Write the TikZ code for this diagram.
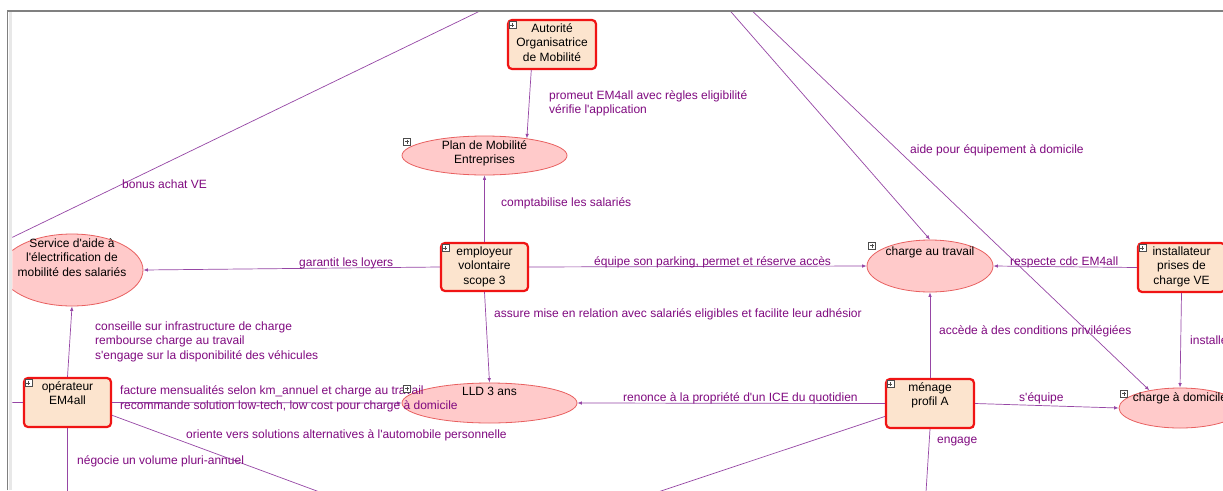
\documentclass[tikz,border=0pt]{standalone}
\usepackage{fontspec}
\setmainfont{Liberation Sans}
\usetikzlibrary{arrows.meta, shapes.geometric}
\usepackage{xcolor}

\definecolor{boxfill}{RGB}{252,228,206}
\definecolor{boxline}{RGB}{240,20,20}
\definecolor{ellfill}{RGB}{255,202,202}
\definecolor{ellline}{RGB}{232,96,96}
\definecolor{linkcol}{RGB}{150,70,165}
\definecolor{linktxt}{RGB}{128,10,128}
\definecolor{framegrey}{RGB}{128,128,128}
\definecolor{bandgrey}{RGB}{232,232,232}

\begin{document}
\begin{tikzpicture}[x=1pt, y=-1pt,
  actor/.style={rectangle, draw=boxline, fill=boxfill, line width=2.2pt, rounded corners=4pt,
    minimum width=87pt, minimum height=49pt, inner sep=0pt},
  goal/.style={ellipse, draw=ellline, fill=ellfill, line width=0.8pt, inner sep=0pt},
  intext/.style={anchor=north, inner xsep=0pt, inner ysep=4.5pt, align=center,
    font=\fontsize{12}{14.5}\selectfont},
  link/.style={draw=linkcol, line width=0.7pt},
  linkarrow/.style={link, -{Latex[length=4.5pt,width=3.5pt]}},
  linklabel/.style={anchor=west, inner sep=0pt, text=linktxt, align=left,
    font=\fontsize{12}{14.5}\selectfont},
  pbox/.style={draw=black!70, fill=white, line width=0.5pt}]
  \useasboundingbox (0,0) rectangle (1223,490);
  \fill[white] (0,0) rectangle (1223,490);
  \begin{scope}
  \clip (12.3,11.7) rectangle (1223,490);
  \node[actor, minimum width=88pt] (aom)    at (552,44.5)    {};
  \node[goal, minimum width=165pt, minimum height=39pt] (pme) at (484.5,155.5) {};
  \node[actor, minimum height=48pt] (empl)   at (484.5,267)   {};
  \node[goal, minimum width=142pt, minimum height=72pt] (sam) at (72,270) {};
  \node[actor]                      (oper)   at (67.5,402.5)  {};
  \node[goal, minimum width=175pt, minimum height=40pt] (lld) at (489.5,403) {};
  \node[actor, minimum width=88pt]  (menage) at (930,403.5)   {};
  \node[goal, minimum width=126pt, minimum height=52pt] (ctrav) at (930,266) {};
  \node[actor]                      (inst)   at (1181.5,267.5) {};
  \node[goal, minimum width=122pt, minimum height=40pt] (cdom) at (1180,408) {};

  \node[intext] (aomt)    at (aom.north)    {Autorité\\Organisatrice\\de Mobilité};
  \node[intext] (pmet)    at (pme.north)    {Plan de Mobilité\\Entreprises};
  \node[intext] (emplt)   at (empl.north)   {employeur\\volontaire\\scope 3};
  \node[intext] (samt)    at (sam.north)    {Service d\textquotesingle aide à\\l\textquotesingle électrification de\\mobilité des salariés};
  \node[intext] (opert)   at (oper.north)   {opérateur\\EM4all};
  \node[intext] (lldt)    at (lld.north)    {LLD 3 ans};
  \node[intext] (menaget) at (menage.north) {ménage\\profil A};
  \node[intext, inner ysep=7.5pt] (ctravt) at (ctrav.north) {charge au travail};
  \node[intext] (instt)   at (inst.north)   {installateur\\prises de\\charge VE};
  \node[intext] (cdomt)   at (cdom.north)   {charge à domicile};

  \coordinate (ta) at (725,5);
  \coordinate (tb) at (746,5);
  \coordinate (tc) at (492.4,5);
  \coordinate (la) at (0,243.3);
  \coordinate (ba) at (319.6,492);
  \coordinate (bb) at (67.5,492);
  \coordinate (lb) at (0,402.5);
  \coordinate (bc) at (658,492);
  \coordinate (bd) at (926,492);

  \draw[linkarrow] (aom.-129) -- (pme.22);
  \draw[linkarrow] (empl.north) -- (pme.south);
  \draw[linkarrow] (empl.west) -- (sam.east);
  \draw[linkarrow] (empl.east) -- (ctrav.west);
  \draw[linkarrow] (empl.south) -- (lld.north);
  \draw[linkarrow] (menage.west) -- (lld.east);
  \draw[linkarrow] (menage.north) -- (ctrav.south);
  \draw[linkarrow] (menage.east) -- (cdom.west);
  \draw[linkarrow] (inst.west) -- (ctrav.east);
  \draw[linkarrow] (inst.south) -- (cdom.north);
  \draw[linkarrow] (oper.north) -- (sam.south);
  \draw[linkarrow] (oper.east) -- (lld.west);
  \draw[linkarrow] (ta) -- (ctrav.north);
  \draw[linkarrow] (tb) -- (cdom.150);
  \draw[link] (tc) -- (la);
  \draw[link] (oper.-16) -- (ba);
  \draw[link] (oper.south) -- (bb);
  \draw[link] (oper.west) -- (lb);
  \draw[link] (menage.196) -- (bc);
  \draw[link] (menage.south) -- (bd);

  \node[linklabel] (lpromeut)   at (549,103.5) {promeut EM4all avec règles eligibilité\\vérifie l\textquotesingle application};
  \node[linklabel] (lcompta)    at (501,203)   {comptabilise les salariés};
  \node[linklabel] (lgarantit)  at (299,263)   {garantit les loyers};
  \node[linklabel] (lequipe)    at (594,262)   {équipe son parking, permet et réserve accès};
  \node[linklabel] (lassure)    at (494,314)   {assure mise en relation avec salariés eligibles et facilite leur adhésior};
  \node[linklabel] (lrenonce)   at (623,398)   {renonce à la propriété d\textquotesingle un ICE du quotidien};
  \node[linklabel] (laccede)    at (939,331)   {accède à des conditions privilégiées};
  \node[linklabel] (lsequipe)   at (1019,398)  {s\textquotesingle équipe};
  \node[linklabel] (lrespecte)  at (1010,262)  {respecte cdc EM4all};
  \node[linklabel] (linstalle)  at (1190,340)  {installe};
  \node[linklabel] (laide)      at (910,150)   {aide pour équipement à domicile};
  \node[linklabel] (lbonus)     at (122,184)   {bonus achat VE};
  \node[linklabel] (lconseille) at (95,341.5)  {conseille sur infrastructure de charge\\rembourse charge au travail\\s\textquotesingle engage sur la disponibilité des véhicules};
  \node[linklabel] (lfacture)   at (120,399)   {facture mensualités selon km\_annuel et charge au travail\\recommande solution low-tech, low cost pour charge à domicile};
  \node[linklabel] (loriente)   at (186,435)   {oriente vers solutions alternatives à l\textquotesingle automobile personnelle};
  \node[linklabel] (lnegocie)   at (77,461)    {négocie un volume pluri-annuel};
  \node[linklabel] (lengage)    at (937,442)   {engage};

  \foreach \n in {aom,pme,empl,sam,oper,lld,menage,ctrav,inst,cdom}
    \draw[pbox, shift={(\n.west |- \n.north)}] (2,2.5) rectangle (9,9.5) (3.5,6) -- (7.5,6) (5.5,4) -- (5.5,8);
  \end{scope}
  \fill[bandgrey] (8.5,11.7) rectangle (12.3,490);
  \draw[framegrey, line width=1.7pt] (7.5,490) -- (7.5,10.8) -- (1223,10.8);
\end{tikzpicture}
\end{document}
